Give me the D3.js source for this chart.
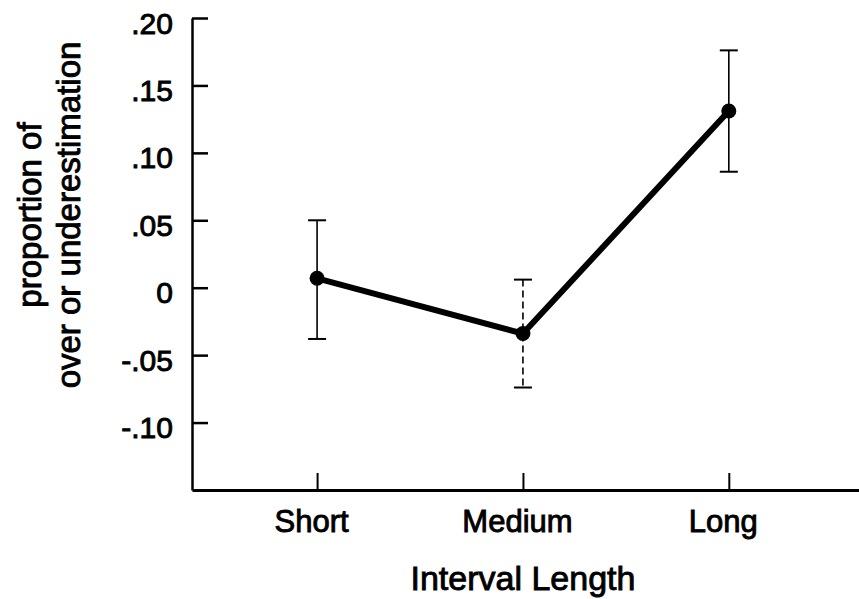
<!DOCTYPE html>
<meta charset="utf-8">
<style>
    body { margin: 0; background: #fff; }
    svg { display: block; }
    text {
        font-family: "Liberation Sans", Arial, Helvetica, sans-serif;
        fill: #000;
        stroke: #000;
        stroke-width: 0.9;
    }
    .axis path, .axis line { stroke: #000; }
</style>
<body>
<svg></svg>
</body>
<script src="https://d3js.org/d3.v7.min.js"></script>
<script>
    // values
    var categories = ["Short", "Medium", "Long"];
    var means = [0.007, -0.034, 0.131];
    var upper = [0.050, 0.006, 0.176];
    var lower = [-0.038, -0.074, 0.086];
    var yTicks = [0.20, 0.15, 0.10, 0.05, 0, -0.05, -0.10];
    var yTickLabels = [".20", ".15", ".10", ".05", "0", "-.05", "-.10"];

    var width = 859,
        height = 599;

    var svg = d3.select("svg")
        .attr("width", width)
        .attr("height", height);

    var x = d3.scalePoint()
        .domain(categories)
        .range([192, 859])
        .padding(0.62)
        .align(0.49);

    var y = d3.scaleLinear()
        .domain([-0.15, 0.20])
        .range([490, 18]);

    var points = categories.map(function (c, i) {
        return {cat: c, mean: means[i], hi: upper[i], lo: lower[i]};
    });

    // y axis
    var yAxis = svg.append("g")
        .attr("class", "axis")
        .attr("transform", "translate(192,0)")
        .call(d3.axisLeft(y)
            .tickValues(yTicks)
            .tickFormat(function (d, i) { return yTickLabels[i]; })
            .tickSizeInner(-16)
            .tickSizeOuter(0)
            .tickPadding(19));
    yAxis.select(".domain").attr("stroke-width", 2.5);
    yAxis.selectAll(".tick line").attr("stroke-width", 2.5);
    yAxis.selectAll(".tick text")
        .attr("font-size", 30)
        .attr("dy", "0.5em");

    // x axis
    var xAxis = svg.append("g")
        .attr("class", "axis")
        .attr("transform", "translate(0,490)")
        .call(d3.axisBottom(x)
            .tickSizeInner(-17)
            .tickSizeOuter(0)
            .tickPadding(20));
    xAxis.select(".domain").attr("stroke-width", 3);
    xAxis.selectAll(".tick line").attr("stroke-width", 2);
    xAxis.selectAll(".tick text")
        .attr("font-size", 31)
        .attr("dx", -6);

    // axis titles
    svg.append("text")
        .attr("x", (x("Short") + x("Long")) / 2)
        .attr("y", 590)
        .attr("text-anchor", "middle")
        .attr("font-size", 34)
        .text("Interval Length");

    var yTitle = [["proportion of", 41], ["over or underestimation", 80]];
    svg.selectAll(".ytitle")
        .data(yTitle)
        .enter().append("text")
        .attr("class", "ytitle")
        .attr("transform", function (d) { return "translate(" + d[1] + ",215) rotate(-90)"; })
        .attr("text-anchor", "middle")
        .attr("font-size", 33)
        .text(function (d) { return d[0]; });

    // error bars
    var bars = svg.append("g")
        .selectAll("g")
        .data(points)
        .enter().append("g")
        .attr("stroke", "#000");

    bars.append("line")
        .attr("x1", function (d) { return x(d.cat); })
        .attr("x2", function (d) { return x(d.cat); })
        .attr("y1", function (d) { return y(d.hi); })
        .attr("y2", function (d) { return y(d.lo); })
        .attr("stroke-width", 1.6)
        .attr("stroke-dasharray", function (d) { return d.cat === "Medium" ? "7,4" : null; });

    bars.selectAll(".cap")
        .data(function (d) { return [d.hi, d.lo].map(function (v) { return {cat: d.cat, v: v}; }); })
        .enter().append("line")
        .attr("class", "cap")
        .attr("x1", function (d) { return x(d.cat) - 9; })
        .attr("x2", function (d) { return x(d.cat) + 9; })
        .attr("y1", function (d) { return y(d.v); })
        .attr("y2", function (d) { return y(d.v); })
        .attr("stroke-width", 2);

    // mean line
    var line = d3.line()
        .x(function (d) { return x(d.cat); })
        .y(function (d) { return y(d.mean); });

    svg.append("path")
        .datum(points)
        .attr("d", line)
        .attr("fill", "none")
        .attr("stroke", "#000")
        .attr("stroke-width", 6)
        .attr("stroke-linejoin", "round");

    svg.append("g")
        .selectAll("circle")
        .data(points)
        .enter().append("circle")
        .attr("cx", function (d) { return x(d.cat); })
        .attr("cy", function (d) { return y(d.mean); })
        .attr("r", 7.5)
        .attr("fill", "#000");
</script>
</html>
